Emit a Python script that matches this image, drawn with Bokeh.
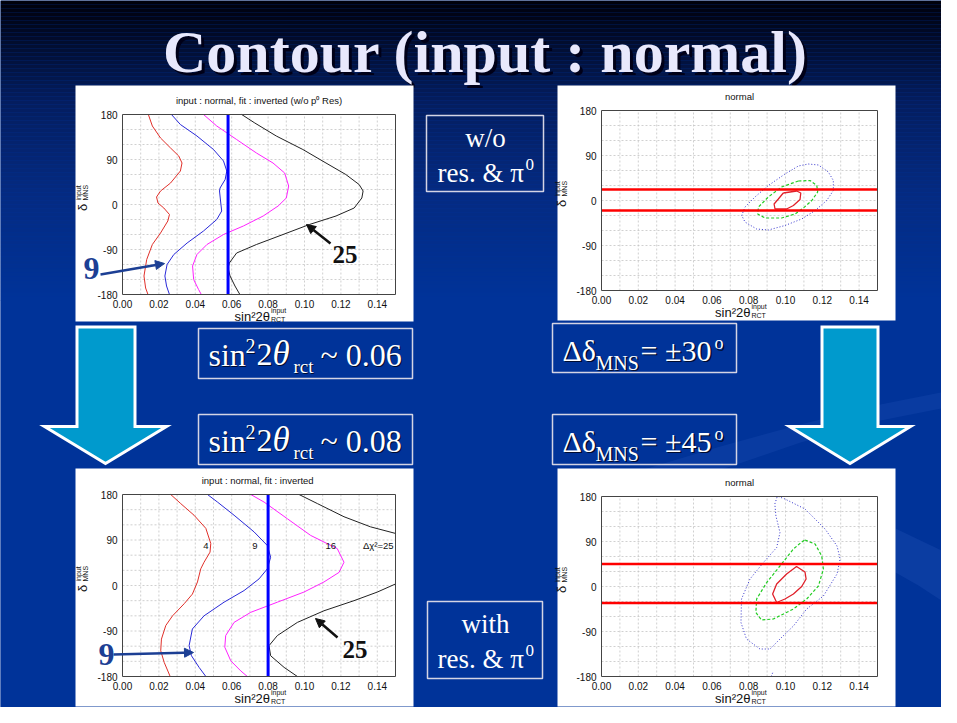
import numpy as np
from bokeh.plotting import figure
from bokeh.models import Range1d, Arrow, NormalHead
from bokeh.core.properties import value
from bokeh.embed import file_html
from bokeh.resources import INLINE

# ---------------- data ----------------
X_RANGE = [0.0, 0.15]
Y_RANGE = [-180, 180]
X_TICKS = [0.00, 0.02, 0.04, 0.06, 0.08, 0.10, 0.12, 0.14]
X_TICK_LABELS = ["0.00", "0.02", "0.04", "0.06", "0.08", "0.10", "0.12", "0.14"]
Y_TICKS = [-180, -90, 0, 90, 180]
Y_TICK_LABELS = ["-180", "-90", "0", "90", "180"]
X_GRID = [0.01, 0.02, 0.03, 0.04, 0.05, 0.06, 0.07, 0.08, 0.09, 0.10, 0.11, 0.12, 0.13, 0.14]
Y_GRID = [-150, -120, -90, -60, -30, 0, 30, 60, 90, 120, 150]

TITLE_TL = "input : normal, fit : inverted (w/o p\u2070 Res)"
TITLE_BL = "input : normal,  fit : inverted"
TITLE_R = "normal"

# top-left : input normal, fit inverted, w/o resonance
TL_RED_X = [0.0142, 0.0164, 0.0209, 0.0264, 0.0309, 0.0327, 0.0318, 0.0264, 0.0209, 0.0187,
            0.0195, 0.0227, 0.0258, 0.0249, 0.0209, 0.0164, 0.0133, 0.0118, 0.0127, 0.0140]
TL_RED_Y = [180, 157, 133, 113, 97, 83, 67, 43, 27, 15, 3, -7, -20, -33, -57, -80, -110, -143, -167, -180]
TL_BLUE_X = [0.0269, 0.0318, 0.0409, 0.0500, 0.0555, 0.0573, 0.0564, 0.0536, 0.0533, 0.0540,
             0.0545, 0.0518, 0.0445, 0.0355, 0.0282, 0.0245, 0.0233, 0.0242, 0.0258]
TL_BLUE_Y = [180, 160, 137, 110, 87, 67, 50, 33, 27, 3, -13, -30, -53, -77, -100, -120, -143, -163, -180]
TL_MAG_X = [0.0445, 0.0518, 0.0627, 0.0736, 0.0827, 0.0891, 0.0913, 0.0900, 0.0855, 0.0773,
            0.0664, 0.0555, 0.0464, 0.0409, 0.0385, 0.0391, 0.0418, 0.0433]
TL_MAG_Y = [180, 157, 130, 103, 83, 63, 37, 13, -3, -23, -43, -60, -80, -100, -123, -150, -170, -180]
TL_BLACK_X = [0.0655, 0.0727, 0.0845, 0.0991, 0.1118, 0.1227, 0.1300, 0.1322, 0.1315, 0.1273,
              0.1173, 0.1027, 0.0882, 0.0736, 0.0627, 0.0587, 0.0580, 0.0591, 0.0618, 0.0645]
TL_BLACK_Y = [180, 163, 137, 110, 83, 60, 40, 27, 13, -7, -23, -40, -60, -80, -97, -117, -127, -143, -163, -180]
TL_VLINE = 0.058

# bottom-left : input normal, fit inverted, with resonance
BL_RED_X = [0.0265, 0.0320, 0.0393, 0.0458, 0.0485, 0.0481, 0.0448, 0.0430, 0.0412, 0.0384,
            0.0339, 0.0275, 0.0238, 0.0214, 0.0210, 0.0229, 0.0262]
BL_RED_Y = [180, 162, 139, 113, 83, 66, 46, 33, 7, -17, -36, -60, -79, -106, -129, -152, -180]
BL_BLUE_X = [0.0467, 0.0522, 0.0613, 0.0723, 0.0796, 0.0814, 0.0796, 0.0750, 0.0668, 0.0558,
             0.0448, 0.0384, 0.0366, 0.0379, 0.0421, 0.0458]
BL_BLUE_Y = [180, 165, 139, 106, 79, 56, 33, 13, -10, -33, -60, -86, -119, -139, -162, -180]
BL_MAG_X = [0.0705, 0.0778, 0.0906, 0.1034, 0.1180, 0.1217, 0.1190, 0.1107, 0.0997, 0.0851,
            0.0705, 0.0613, 0.0567, 0.0562, 0.0595, 0.0650, 0.0686]
BL_MAG_Y = [180, 165, 132, 99, 73, 46, 26, 7, -13, -33, -53, -73, -99, -122, -149, -169, -180]
BL_BLACK_UP_X = [0.0970, 0.1071, 0.1217, 0.1363, 0.1500]
BL_BLACK_UP_Y = [180, 162, 136, 116, 103]
BL_BLACK_LO_X = [0.1500, 0.1400, 0.1272, 0.1107, 0.0961, 0.0851, 0.0805, 0.0814, 0.0888, 0.0961]
BL_BLACK_LO_Y = [3, -13, -30, -50, -73, -99, -119, -139, -162, -180]
BL_VLINE = 0.080
BL_LEVEL_TEXT = ["4", "9", "16", "\u0394\u03c7\u00b2=25"]
BL_LEVEL_X = [0.0458, 0.0728, 0.1144, 0.1405]
BL_LEVEL_Y = [79, 79, 79, 79]

# top-right : allowed region, delta = +-30
TR_RED_X = [0.0988, 0.1061, 0.1083, 0.1079, 0.1043, 0.1006, 0.0943, 0.0938, 0.0961]
TR_RED_Y = [15, 19, 15, 2, -10, -17, -17, -7, 3]
TR_GREEN_X = [0.1070, 0.1133, 0.1170, 0.1175, 0.1143, 0.1097, 0.1052, 0.0979, 0.0889, 0.0849,
              0.0853, 0.0907, 0.0979]
TR_GREEN_Y = [39, 40, 30, 17, 0, -15, -27, -35, -35, -27, -13, 7, 27]
TR_BLUE_X = [0.1124, 0.1179, 0.1233, 0.1260, 0.1260, 0.1224, 0.1161, 0.1088, 0.0997, 0.0907,
             0.0843, 0.0780, 0.0762, 0.0780, 0.0834, 0.0907, 0.0997, 0.1070]
TR_BLUE_Y = [73, 71, 57, 40, 20, 0, -20, -37, -50, -59, -57, -43, -30, -13, 7, 30, 53, 69]
TR_BAND = [22, -20]

# bottom-right : allowed region, delta = +-45
BR_RED_X = [0.1060, 0.1106, 0.1112, 0.1088, 0.1043, 0.0997, 0.0952, 0.0930, 0.0952, 0.1006]
BR_RED_Y = [40, 29, 15, 0, -15, -25, -32, -15, 5, 25]
BR_GREEN_X = [0.1106, 0.1161, 0.1197, 0.1206, 0.1179, 0.1115, 0.1043, 0.0934, 0.0870, 0.0839,
              0.0843, 0.0898, 0.0970, 0.1043, 0.1088]
BR_GREEN_Y = [93, 85, 61, 35, 1, -25, -45, -65, -67, -52, -25, 8, 41, 75, 89]
BR_BLUE_X = [0.0961, 0.0997, 0.1106, 0.1215, 0.1280, 0.1297, 0.1280, 0.1206, 0.1115, 0.1043,
             0.0970, 0.0916, 0.0861, 0.0788, 0.0758, 0.0761, 0.0807, 0.0880, 0.0952, 0.0970,
             0.0948, 0.0942, 0.0955]
BR_BLUE_Y = [180, 175, 155, 115, 81, 55, 25, -19, -45, -79, -105, -125, -125, -105, -72, -25,
             15, 48, 78, 108, 141, 165, 180]
BR_BLUE_STUB_X = [0.0922, 0.0932]
BR_BLUE_STUB_Y = [-180, -171]
BR_BAND = [45, -33]

# ---------------- page / slide layout (slide pixel coordinates) ----------------
W, H = 941, 707
p = figure(width=W, height=H, x_range=Range1d(0, W), y_range=Range1d(H, 0),
           output_backend="svg", toolbar_location=None, x_axis_location=None, y_axis_location=None,
           min_border=0)
p.outline_line_color = None
p.background_fill_color = "#003399"
p.border_fill_color = "#003399"
p.grid.visible = False

# background gradient (dark navy at the top to royal blue)
stop_y = [0, 50, 100, 190, 300]
stop_rgb = np.array([[0, 0, 10], [2, 15, 53], [4, 29, 94], [5, 42, 128], [0, 51, 153]])
edges = np.arange(0, 304, 4)
mids = (edges[:-1] + edges[1:]) / 2
cols = []
for m in mids:
    r, g, b = [int(round(np.interp(m, stop_y, stop_rgb[:, k]))) for k in range(3)]
    cols.append("#%02x%02x%02x" % (r, g, b))
p.quad(left=0, right=W, top=list(edges[:-1]), bottom=list(edges[1:]),
       fill_color=cols, line_color=None)
p.quad(left=0, right=W, top=edges[-1] - 0.5, bottom=H, fill_color="#003399", line_color=None)

# faint decorative swooshes of the slide template (lower right)
p.patch(x=[640, 720, 800, 880, 941, 941, 880, 800, 730, 660],
        y=[470, 446, 424, 404, 392, 408, 420, 442, 466, 486],
        fill_color="#2a5cc0", fill_alpha=0.22, line_color=None)
p.patch(x=[895, 920, 941, 941, 918, 895],
        y=[528, 540, 550, 600, 585, 572],
        fill_color="#2a5cc0", fill_alpha=0.25, line_color=None)

SERIF = value("Liberation Serif")
SANS = value("Liberation Sans")
SERIF_MID = 0.338   # baseline -> middle of the text box (fraction of font size)


def txt(x, y, s, size, color="white", font=SERIF, style="normal", align="left",
        shadow=None, dx=1.5):
    """y is the alphabetic baseline; drawn with a 'middle' baseline."""
    ym = y - SERIF_MID * size
    if shadow:
        p.text(x=[x + dx], y=[ym + dx], text=[s], text_color=shadow, text_font=font,
               text_font_size="%dpx" % size, text_font_style=style, text_align=align,
               text_baseline="middle")
    p.text(x=[x], y=[ym], text=[s], text_color=color, text_font=font, text_font_size="%dpx" % size,
           text_font_style=style, text_align=align, text_baseline="middle")


# title
txt(485, 72, "Contour (input : normal)", 60, color="#e8e8fc", style="bold", align="center",
    shadow="#000018", dx=3)

# ---------------- the four chart panels ----------------
def panel(box, frame, title):
    p.quad(left=box[0], right=box[1], top=box[2], bottom=box[3], fill_color="white", line_color=None)
    sp = p.subplot(x_source=Range1d(*X_RANGE), y_source=Range1d(*Y_RANGE),
                   x_target=Range1d(frame[0], frame[1]), y_target=Range1d(frame[3], frame[2]))
    sp.segment(x0=X_GRID, y0=Y_RANGE[0], x1=X_GRID, y1=Y_RANGE[1], line_color="#c4c4c4",
               line_width=0.8, line_dash="2 2")
    sp.segment(x0=X_RANGE[0], y0=Y_GRID, x1=X_RANGE[1], y1=Y_GRID, line_color="#c4c4c4",
               line_width=0.8, line_dash="2 2")
    xmid = sum(X_RANGE) / 2
    ymid = sum(Y_RANGE) / 2
    common = dict(text_font=SANS, text_color="#111111")
    sp.text(x=X_TICKS, y=Y_RANGE[0], text=X_TICK_LABELS, y_offset=5, text_align="center",
            text_baseline="top", text_font_size="10px", **common)
    sp.text(x=X_RANGE[0], y=Y_TICKS, text=Y_TICK_LABELS, x_offset=-5, text_align="right",
            text_baseline="middle", text_font_size="10px", **common)
    sp.text(x=[xmid], y=[Y_RANGE[1]], text=[title], y_offset=-14, text_align="center",
            text_baseline="middle", text_font_size="9.5px", **common)
    # x-axis label  sin^2 2theta ^input _RCT
    sp.text(x=[xmid], y=[Y_RANGE[0]], text=["sin\u00b22\u03b8"], x_offset=11, y_offset=21.5,
            text_align="right", text_baseline="middle", text_font_size="13px", **common)
    sp.text(x=[xmid], y=[Y_RANGE[0]], text=["input"], x_offset=12, y_offset=15.5,
            text_align="left", text_baseline="middle", text_font_size="7px", **common)
    sp.text(x=[xmid], y=[Y_RANGE[0]], text=["RCT"], x_offset=12, y_offset=24.5,
            text_align="left", text_baseline="middle", text_font_size="7px", **common)
    # y-axis label  delta ^input _MNS (rotated)
    sp.text(x=[X_RANGE[0]], y=[ymid], text=["\u03b4"], x_offset=-40, y_offset=3, angle=np.pi / 2,
            text_align="center", text_baseline="middle", text_font_size="13px", **common)
    sp.text(x=[X_RANGE[0]], y=[ymid], text=["input"], x_offset=-44, y_offset=-4, angle=np.pi / 2,
            text_align="left", text_baseline="middle", text_font_size="7px", **common)
    sp.text(x=[X_RANGE[0]], y=[ymid], text=["MNS"], x_offset=-37, y_offset=-4, angle=np.pi / 2,
            text_align="left", text_baseline="middle", text_font_size="7px", **common)
    return sp


def frame_box(sp):
    sp.quad(left=X_RANGE[0], right=X_RANGE[1], bottom=Y_RANGE[0], top=Y_RANGE[1],
            fill_color=None, line_color="#444444", line_width=1)


def closed(a):
    return list(a) + [a[0]]


# top-left
sp = panel((75, 413, 85, 321), (122, 395, 114, 294), TITLE_TL)
sp.line(TL_RED_X, TL_RED_Y, line_color="#e0302a", line_width=1)
sp.line(TL_BLUE_X, TL_BLUE_Y, line_color="#2a2ad8", line_width=1)
sp.line(TL_MAG_X, TL_MAG_Y, line_color="#ff22ff", line_width=1)
sp.line(TL_BLACK_X, TL_BLACK_Y, line_color="#222222", line_width=1)
sp.segment(x0=[TL_VLINE], y0=[Y_RANGE[0]], x1=[TL_VLINE], y1=[Y_RANGE[1]], line_color="#0000ff",
           line_width=3)
frame_box(sp)

# bottom-left
sp = panel((75, 413, 468, 706), (122, 395, 494, 676), TITLE_BL)
sp.line(BL_RED_X, BL_RED_Y, line_color="#e0302a", line_width=1)
sp.line(BL_BLUE_X, BL_BLUE_Y, line_color="#2a2ad8", line_width=1)
sp.line(BL_MAG_X, BL_MAG_Y, line_color="#ff22ff", line_width=1)
sp.line(BL_BLACK_UP_X, BL_BLACK_UP_Y, line_color="#222222", line_width=1)
sp.line(BL_BLACK_LO_X, BL_BLACK_LO_Y, line_color="#222222", line_width=1)
sp.segment(x0=[BL_VLINE], y0=[Y_RANGE[0]], x1=[BL_VLINE], y1=[Y_RANGE[1]], line_color="#0000ff",
           line_width=3)
sp.text(x=BL_LEVEL_X, y=BL_LEVEL_Y, text=BL_LEVEL_TEXT, text_align="center", text_baseline="middle",
        text_font=SANS, text_font_size="9.5px", text_color="#111111")
frame_box(sp)

# top-right
sp = panel((557, 895, 85, 320), (601, 877, 110, 290), TITLE_R)
sp.line(closed(TR_BLUE_X), closed(TR_BLUE_Y), line_color="#3333cc", line_width=1, line_dash="1 2")
sp.line(closed(TR_GREEN_X), closed(TR_GREEN_Y), line_color="#22cc22", line_width=1.2, line_dash="3 2")
sp.line(closed(TR_RED_X), closed(TR_RED_Y), line_color="#e0202a", line_width=1.3)
sp.segment(x0=X_RANGE[0], y0=TR_BAND, x1=X_RANGE[1], y1=TR_BAND, line_color="#ff0000", line_width=2.5)
frame_box(sp)

# bottom-right
sp = panel((557, 895, 468, 706), (601, 877, 496, 676), TITLE_R)
sp.line(BR_BLUE_X, BR_BLUE_Y, line_color="#3333cc", line_width=1, line_dash="1 2")
sp.line(BR_BLUE_STUB_X, BR_BLUE_STUB_Y, line_color="#3333cc", line_width=1, line_dash="1 2")
sp.line(closed(BR_GREEN_X), closed(BR_GREEN_Y), line_color="#22cc22", line_width=1.2, line_dash="3 2")
sp.line(closed(BR_RED_X), closed(BR_RED_Y), line_color="#e0202a", line_width=1.3)
sp.segment(x0=X_RANGE[0], y0=BR_BAND, x1=X_RANGE[1], y1=BR_BAND, line_color="#ff0000", line_width=2.5)
frame_box(sp)

# ---------------- annotations on the left charts ----------------
NAVY = "#1c3f94"
txt(83, 279, "9", 32, color=NAVY, style="bold")
txt(98, 665, "9", 32, color=NAVY, style="bold")
txt(332, 262, "25", 25, color="#111111", style="bold")
txt(342, 657, "25", 25, color="#111111", style="bold")
for (xs, ys, xe, ye, c) in [(100, 274, 164, 263, NAVY), (113, 654, 193, 652, NAVY),
                            (330, 243, 306, 224, "#111111"), (337, 637, 315, 618, "#111111")]:
    p.add_layout(Arrow(end=NormalHead(size=9, fill_color=c, line_color=c, line_width=1),
                       x_start=xs, y_start=ys, x_end=xe, y_end=ye, line_color=c, line_width=2.5))

# ---------------- big down arrows ----------------
for (l, r, wl, wr, tip) in [(76.5, 134.5, 44, 166, 105), (821.5, 877.5, 789, 910, 849.5)]:
    p.patch(x=[l, r, r, wr, tip, wl, l], y=[326.5, 326.5, 426, 426, 463, 426, 426],
            fill_color="#009acd", line_color="white", line_width=3, line_join="miter")

# ---------------- text boxes ----------------
BOX_LINE = "#d4d4e4"
SH = "#000c30"
for (l, r, t, b) in [(426, 543, 115, 191), (427, 542, 601, 678), (198, 412, 328, 378),
                     (198, 412, 414, 464), (552, 736, 323, 372), (552, 736, 414, 464)]:
    p.quad(left=l, right=r, top=t, bottom=b, fill_color=None, line_color=BOX_LINE, line_width=1.5)

for (word, yb) in [("w/o", 147), ("with", 633)]:
    txt(485, yb, word, 27, align="center")
    txt(437, yb + 35, "res. & \u03c0", 27)
    txt(525, yb + 23, "0", 17)

for (val, yb) in [("~ 0.06", 365), ("~ 0.08", 451)]:
    txt(208, yb, "sin", 32, shadow=SH, dx=1)
    txt(245, yb - 13, "2", 20, shadow=SH, dx=1)
    txt(256, yb, "2", 32, shadow=SH, dx=1)
    txt(272, yb, "\u03b8", 35, style="italic", shadow=SH, dx=1)
    txt(293, yb + 7, "rct", 19, shadow=SH, dx=1)
    txt(320, yb, val, 32, shadow=SH, dx=1)

for (val, yb) in [("= \u00b130", 360), ("= \u00b145", 451)]:
    txt(562, yb, "\u0394\u03b4", 30, shadow=SH, dx=1.5)
    txt(595, yb + 9, "MNS", 20, shadow=SH, dx=1.5)
    txt(640, yb, val, 30, shadow=SH, dx=1.5)
    txt(714, yb - 11, "o", 18, shadow=SH, dx=1.5)

open("out.html", "w").write(file_html(p, INLINE))
